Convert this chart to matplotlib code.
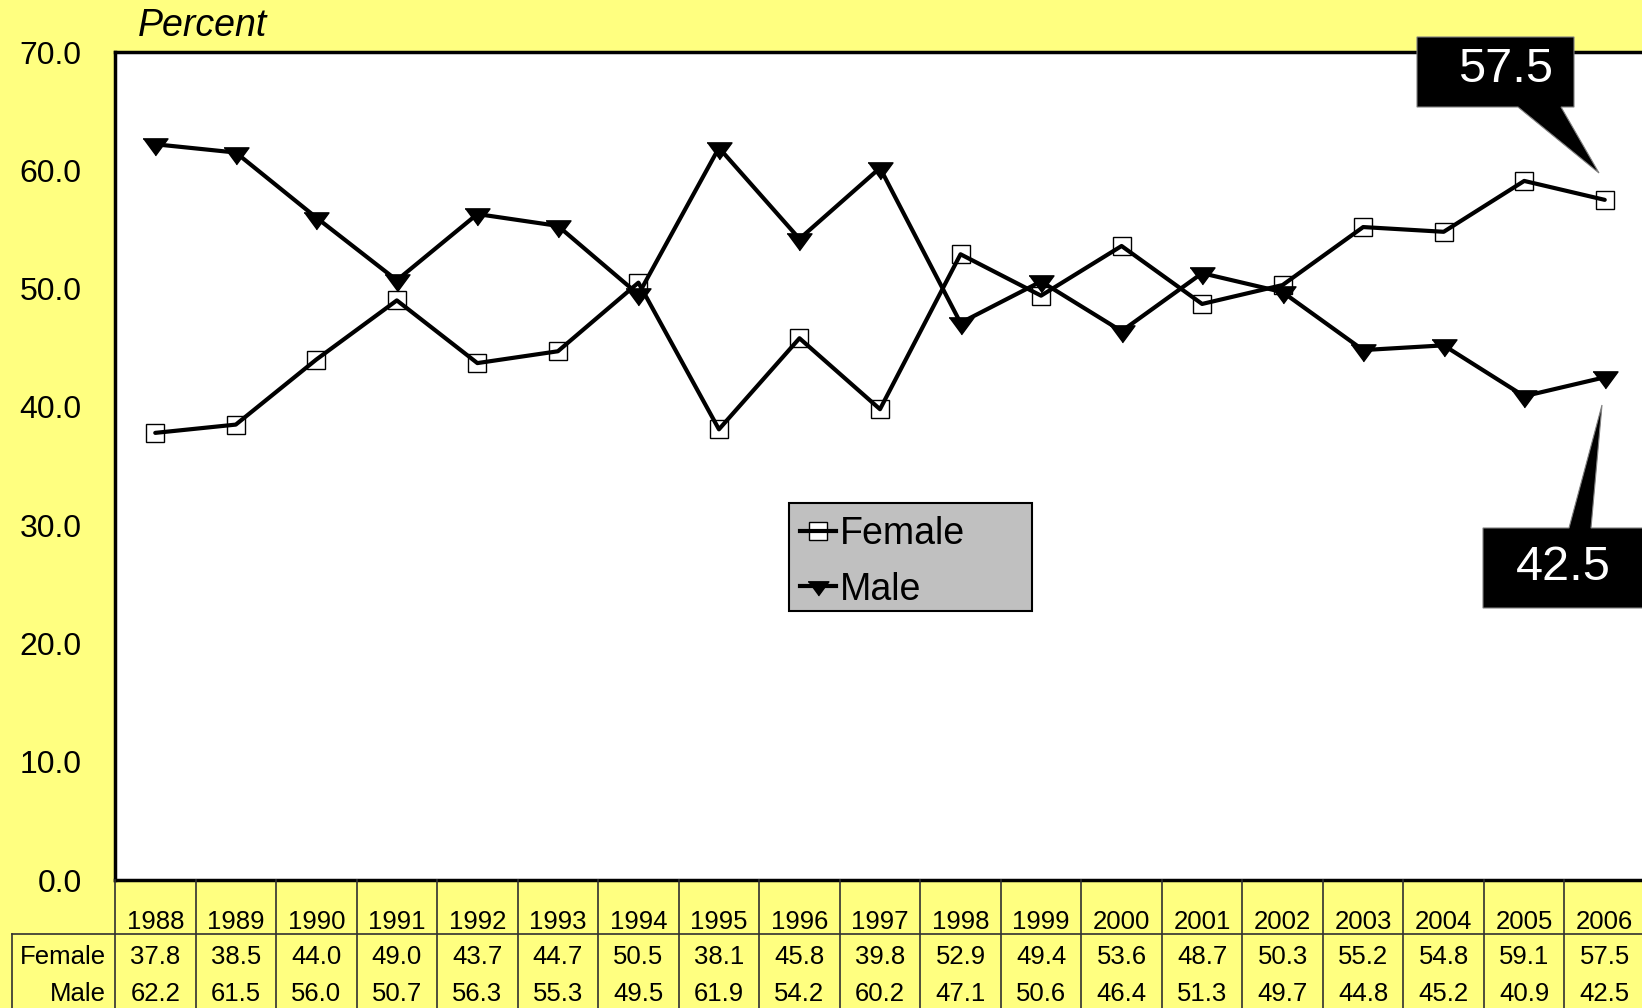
import matplotlib
matplotlib.use("Agg")
import matplotlib.pyplot as plt
from matplotlib.lines import Line2D
from matplotlib.patches import Polygon, Rectangle
from matplotlib.legend_handler import HandlerTuple
import matplotlib.transforms as mtransforms

years = ["1988", "1989", "1990", "1991", "1992", "1993", "1994", "1995", "1996", "1997",
         "1998", "1999", "2000", "2001", "2002", "2003", "2004", "2005", "2006"]
female = [37.8, 38.5, 44.0, 49.0, 43.7, 44.7, 50.5, 38.1, 45.8, 39.8,
          52.9, 49.4, 53.6, 48.7, 50.3, 55.2, 54.8, 59.1, 57.5]
male = [62.2, 61.5, 56.0, 50.7, 56.3, 55.3, 49.5, 61.9, 54.2, 60.2,
        47.1, 50.6, 46.4, 51.3, 49.7, 44.8, 45.2, 40.9, 42.5]
yticks = [0, 10, 20, 30, 40, 50, 60, 70]

plt.rcParams['font.family'] = ['Liberation Sans', 'DejaVu Sans']

W, H = 1642, 1008
fig = plt.figure(figsize=(W / 100, H / 100), dpi=100)
YELLOW = "#FFFF80"
fig.patch.set_facecolor(YELLOW)


def px(x, y):
    return (x / W, 1 - y / H)


ax_left, ax_right, ax_top, ax_bot = 115, 1645, 52, 880
ax = fig.add_axes([ax_left / W, 1 - ax_bot / H, (ax_right - ax_left) / W, (ax_bot - ax_top) / H])
ax.set_facecolor("white")
n = len(years)
xs = list(range(n))
ax.set_xlim(-0.5, n - 0.5)
ax.set_ylim(0, 70)
ax.set_yticks(yticks)
ax.set_yticklabels([f"{v:.1f}" for v in yticks], fontsize=23)
ax.tick_params(axis='y', length=0, pad=24)
ax.set_xticks([])
for s in ax.spines.values():
    s.set_linewidth(2.5)
    s.set_color("black")

tri = [(-1, 0.45), (1, 0.45), (0, -0.91)]
# markers underneath, lines on top
ax.plot(xs, female, linestyle='none', marker='s', markersize=13.5, markerfacecolor='white',
        markeredgecolor='black', markeredgewidth=1.0, zorder=2, clip_on=False)
ax.plot(xs, male, linestyle='none', marker=tri, markersize=18, markerfacecolor='black',
        markeredgecolor='black', zorder=2, clip_on=False)
ax.plot(xs, female, color='black', linewidth=3, zorder=3, solid_capstyle='round', clip_on=False)
ax.plot(xs, male, color='black', linewidth=3, zorder=3, solid_capstyle='round', clip_on=False)

# Legend (frame drawn separately)
fig.add_artist(Rectangle(px(789, 611), (1032 - 789) / W, (611 - 503) / H, transform=fig.transFigure,
                         facecolor="#C0C0C0", edgecolor='black', linewidth=1.5, zorder=5))
fm = Line2D([], [], linestyle='none', marker='s', markersize=12.5, markerfacecolor='white',
            markeredgecolor='black', markeredgewidth=1.0)
fl = Line2D([], [], color='black', linewidth=3)
mm = Line2D([], [], linestyle='none', marker=tri, markersize=15, markerfacecolor='black',
            markeredgecolor='black')
ml = Line2D([], [], color='black', linewidth=3)
leg = fig.legend([(fm, fl), (mm, ml)], ["Female", "Male"],
                 handler_map={tuple: HandlerTuple(ndivide=1)},
                 loc='upper left', bbox_to_anchor=px(800, 516), fontsize=27,
                 frameon=False, borderpad=0, handlelength=0.95, handletextpad=0.12,
                 labelspacing=0.52, borderaxespad=0)
leg.set_zorder(6)

# "Percent" label
fig.text(*px(138, 26), "Percent", fontsize=27, style='italic', ha='left', va='center')

# Data table
trans = mtransforms.blended_transform_factory(ax.transData, fig.transFigure)
GRID = "#303030"
for i in range(n + 1):
    fig.add_artist(Line2D([i - 0.5, i - 0.5], [0, 1 - ax_bot / H], transform=trans,
                          color=GRID, linewidth=1.2))
fig.add_artist(Line2D([12 / W, 1], [1 - 934 / H, 1 - 934 / H], transform=fig.transFigure,
                      color=GRID, linewidth=1.2))
fig.add_artist(Line2D([12 / W, 12 / W], [0, 1 - 934 / H], transform=fig.transFigure,
                      color=GRID, linewidth=1.2))
for i, yr in enumerate(years):
    fig.text(i, 1 - 922 / H, yr, transform=trans, ha='center', va='center', fontsize=18.5)
    fig.text(i, 1 - 957 / H, f"{female[i]:.1f}", transform=trans, ha='center', va='center', fontsize=18.5)
    fig.text(i, 1 - 994 / H, f"{male[i]:.1f}", transform=trans, ha='center', va='center', fontsize=18.5)
fig.text(*px(106, 957), "Female", ha='right', va='center', fontsize=18.5)
fig.text(*px(106, 994), "Male", ha='right', va='center', fontsize=18.5)

# Callouts
c1 = [(1417, 37), (1574, 37), (1574, 107), (1561, 107), (1599, 173), (1518, 107), (1417, 107)]
c2 = [(1483, 528), (1569, 528), (1602, 405), (1591, 528), (1650, 528), (1650, 608), (1483, 608)]
for verts in (c1, c2):
    fig.add_artist(Polygon([px(x, y) for x, y in verts], closed=True, transform=fig.transFigure,
                           facecolor='black', edgecolor='#808080', linewidth=0.8, zorder=10))
fig.text(*px(1506, 70), f"{female[-1]:.1f}", color='white', fontsize=35, ha='center', va='center', zorder=11)
fig.text(*px(1563, 567), f"{male[-1]:.1f}", color='white', fontsize=35, ha='center', va='center', zorder=11)

fig.savefig("out.png", dpi=100, facecolor=fig.get_facecolor())
